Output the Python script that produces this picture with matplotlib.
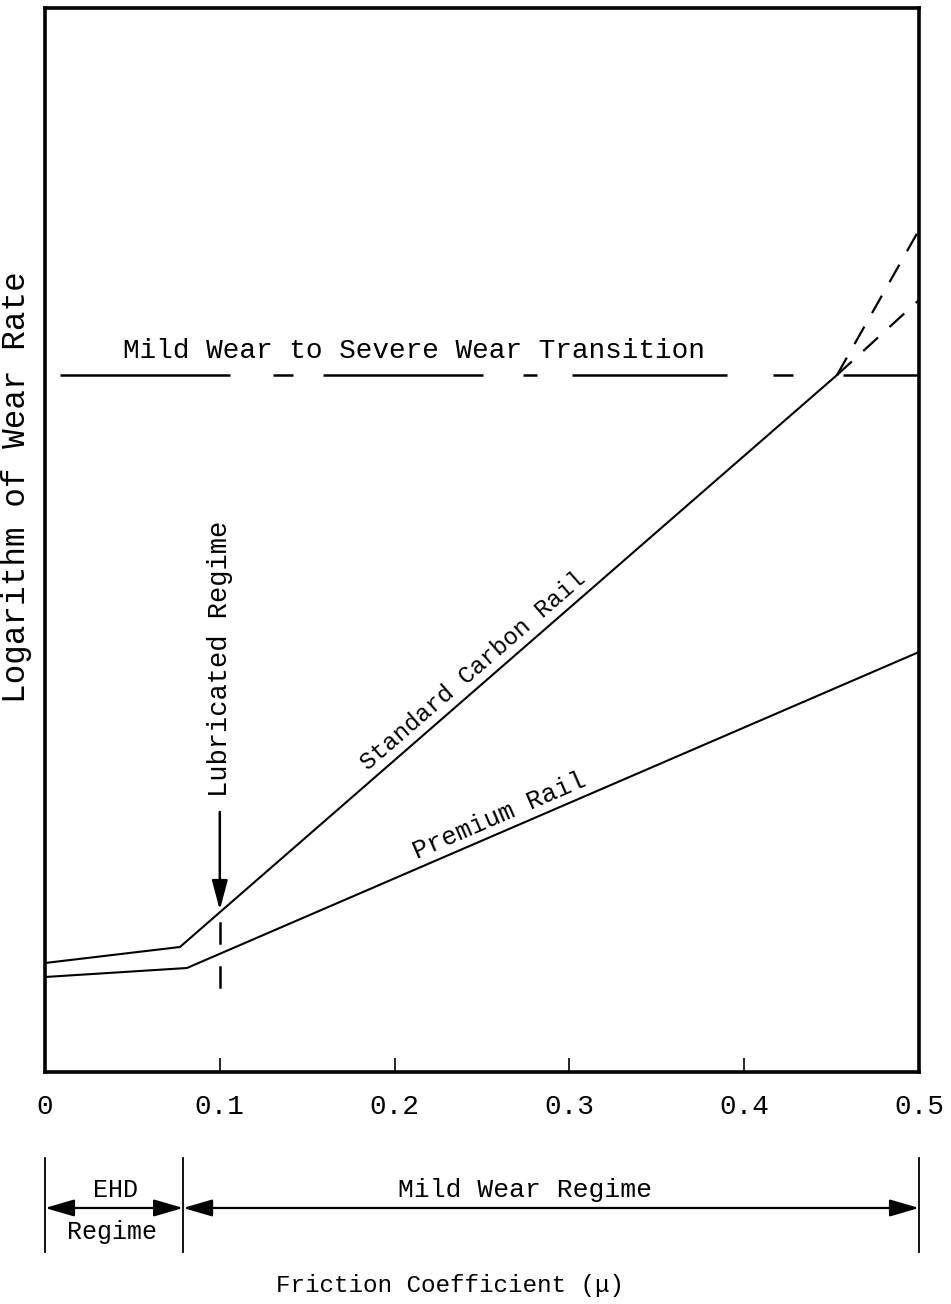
import numpy as np
import matplotlib
matplotlib.use("Agg")
import matplotlib.pyplot as plt

plt.rcParams['font.family'] = ['Liberation Mono', 'DejaVu Sans Mono']

# friction coefficient breakpoints and log wear rate (arbitrary units)
carbon_mu = [0.0, 0.0772, 0.4531]
carbon_wear = [1.09, 1.25, 6.97]
premium_mu = [0.0, 0.0812, 0.5]
premium_wear = [0.95, 1.04, 4.20]

# severe wear extrapolations past the transition
extrap_mu = [0.4531, 0.5]
extrap_upper = [6.97, 8.42]
extrap_lower = [6.97, 7.72]

# mild-to-severe transition level, drawn as broken segments
transition_level = 6.97
transition_segments = [(0.0086, 0.1058), (0.1304, 0.1419), (0.159, 0.2506),
                       (0.2735, 0.2815), (0.3015, 0.3902), (0.4165, 0.4279),
                       (0.4565, 0.5)]

lub_mu = 0.1
lub_arrow = [2.60, 1.62]
lub_dashes = [(1.49, 1.29), (1.05, 0.85)]

xticks = [0, 0.1, 0.2, 0.3, 0.4, 0.5]
xtick_labels = ['0', '0.1', '0.2', '0.3', '0.4', '0.5']
ehd_limit = 0.079

fig = plt.figure(figsize=(9.51, 13.04), dpi=100)
ax = fig.add_axes([45 / 951, 1 - 1072 / 1304, 874 / 951, 1064 / 1304])
ax.set_xlim(0, 0.5)
ax.set_ylim(0, 10.64)

for s in ax.spines.values():
    s.set_linewidth(2.6)

ax.set_yticks([])
ax.set_xticks(xticks)
ax.set_xticklabels(xtick_labels, fontsize=20)
ax.tick_params(axis='x', direction='in', length=10, width=1.2, pad=16)

ax.plot(carbon_mu, carbon_wear, color='black', lw=1.5)
ax.plot(premium_mu, premium_wear, color='black', lw=1.5)
ax.plot(extrap_mu, extrap_upper, color='black', lw=1.6, dashes=(9, 7))
ax.plot(extrap_mu, extrap_lower, color='black', lw=1.6, dashes=(9, 7))

for a, b in transition_segments:
    ax.plot([a, b], [transition_level, transition_level], color='black',
            lw=1.8, solid_capstyle='butt')
ax.text(0.2111, 7.21, 'Mild Wear to Severe Wear Transition', fontsize=20,
        ha='center', va='center')

# lubricated regime marker
ax.annotate('', xy=(lub_mu, lub_arrow[1]), xytext=(lub_mu, lub_arrow[0]),
            arrowprops=dict(arrowstyle='-|>,head_length=1.2,head_width=0.32',
                            color='black', lw=1.8, shrinkA=0, shrinkB=0,
                            mutation_scale=15))
for a, b in lub_dashes:
    ax.plot([lub_mu, lub_mu], [a, b], color='black', lw=1.8)
ax.text(lub_mu, 4.13, 'Lubricated Regime', fontsize=19.5, rotation=90,
        ha='center', va='center')


def line_label(text, mu, xs, ys, size, dist=3):
    y = np.interp(mu, xs, ys)
    p0 = ax.transData.transform((xs[-2], ys[-2]))
    p1 = ax.transData.transform((xs[-1], ys[-1]))
    ang = np.degrees(np.arctan2(p1[1] - p0[1], p1[0] - p0[0]))
    r = np.radians(ang)
    ax.annotate(text, xy=(mu, y), xytext=(-np.sin(r) * dist, np.cos(r) * dist),
                textcoords='offset points', rotation=ang, rotation_mode='anchor',
                ha='center', va='bottom', fontsize=size)


line_label('Standard Carbon Rail', 0.251, carbon_mu, carbon_wear, 17.5)
line_label('Premium Rail', 0.2635, premium_mu, premium_wear, 18.5)

# regime bar under the axis
tr = ax.get_xaxis_transform()
for x in [0.0, ehd_limit, 0.5]:
    ax.plot([x, x], [-0.0808, -0.1692], transform=tr, color='black', lw=1.3,
            clip_on=False)
for a, b in [(0.0, ehd_limit), (ehd_limit, 0.5)]:
    ax.annotate('', xy=(b, -0.1278), xytext=(a, -0.1278), xycoords=tr,
                textcoords=tr, annotation_clip=False,
                arrowprops=dict(arrowstyle='<|-|>,head_length=1.2,head_width=0.35',
                                color='black', lw=1.6, shrinkA=0, shrinkB=0,
                                mutation_scale=15))
ax.text(ehd_limit / 2 + 0.001, -0.1109, 'EHD', transform=tr, ha='center',
        va='center', fontsize=18)
ax.text(ehd_limit / 2 - 0.001, -0.1504, 'Regime', transform=tr, ha='center',
        va='center', fontsize=18)
ax.text(0.2746, -0.1109, 'Mild Wear Regime', transform=tr, ha='center',
        va='center', fontsize=19)
ax.text(0.2317, -0.2002, 'Friction Coefficient (\u03bc)', transform=tr,
        ha='center', va='center', fontsize=17.5)

fig.text(17 / 951, 1 - 487 / 1304, 'Logarithm of Wear Rate', rotation=90,
         ha='center', va='center', fontsize=23.5)

fig.savefig('out.png', dpi=100, facecolor='white')
